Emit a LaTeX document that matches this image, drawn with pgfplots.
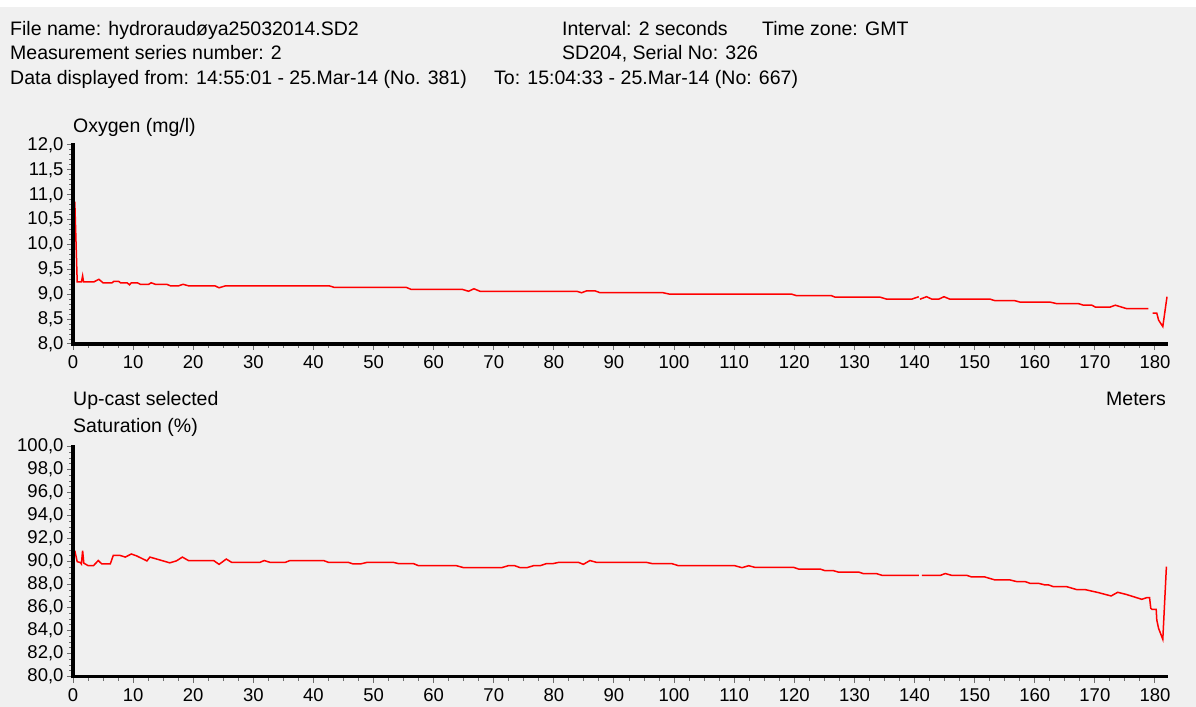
\documentclass[border=0pt]{standalone}
\usepackage{pgfplots}
\pgfplotsset{compat=1.18}
\usepackage{pgfplotstable}
\usepackage{fontspec}
\setmainfont{Liberation Sans}
\definecolor{bg}{RGB}{240,240,240}
\definecolor{tickgray}{RGB}{110,110,110}

\pgfplotstableread{
m v
0.3 10.86
0.7 9.25
1.4 9.25
1.6 9.37
1.75 9.25
3.5 9.25
4.3 9.30
5.0 9.23
6.5 9.23
6.8 9.26
7.6 9.26
7.9 9.23
9.0 9.23
9.4 9.19
9.7 9.23
10.7 9.23
11.2 9.20
12.6 9.20
13.0 9.23
13.7 9.20
15.6 9.20
16.2 9.17
17.6 9.17
18.3 9.20
19.2 9.17
23.6 9.17
24.3 9.13
25.4 9.17
42.6 9.17
43.4 9.14
55.4 9.14
56.2 9.10
64.7 9.10
65.8 9.06
66.7 9.11
67.7 9.06
83.8 9.06
84.6 9.03
85.5 9.07
86.8 9.07
87.7 9.03
98.2 9.03
99.3 9.00
119.6 9.00
120.4 8.97
126.2 8.97
126.8 8.94
134.3 8.94
135.4 8.90
139.5 8.90
140.7 8.95
140.8 nan
140.9 8.90
142.0 8.95
142.9 8.90
144.0 8.90
144.9 8.95
145.9 8.90
152.6 8.90
153.4 8.87
156.7 8.87
157.6 8.84
162.6 8.84
163.7 8.81
167.3 8.81
168.1 8.78
169.5 8.78
170.1 8.74
172.5 8.74
173.4 8.78
175.3 8.71
178.9 8.71
179.2 nan
179.6 8.62
180.3 8.62
180.6 8.48
181.3 8.35
182.0 8.95
}\oxygen

\pgfplotstableread{
m v
0.3 90.96
0.7 90.0
1.2 89.93
1.4 89.8
1.6 90.96
1.8 89.87
2.55 89.65
3.4 89.65
4.2 90.1
4.8 89.8
6.2 89.8
6.7 90.55
7.8 90.55
8.7 90.4
9.7 90.67
10.6 90.5
12.3 90.07
12.8 90.4
16.1 89.9
17.2 90.07
18.2 90.4
19.2 90.1
23.4 90.1
24.3 89.77
25.5 90.23
26.4 89.94
31.1 89.94
31.8 90.1
32.8 89.94
35.3 89.94
36.1 90.1
41.7 90.1
42.5 89.94
45.8 89.94
46.6 89.8
47.8 89.8
48.9 89.94
53.3 89.94
54.1 89.84
56.6 89.84
57.5 89.65
63.8 89.65
65.0 89.48
71.3 89.48
72.4 89.65
73.5 89.65
74.4 89.48
75.5 89.48
76.6 89.65
77.7 89.65
78.8 89.84
79.9 89.84
80.8 89.94
84.1 89.94
84.9 89.77
86.0 90.1
87.1 89.94
95.4 89.94
96.3 89.84
99.6 89.84
100.7 89.65
110.1 89.65
111.3 89.48
112.4 89.65
113.5 89.5
119.9 89.5
120.7 89.36
124.3 89.36
125.1 89.22
126.5 89.22
127.3 89.1
130.7 89.1
131.5 88.96
133.7 88.96
134.6 88.81
140.7 88.81
140.9 nan
141.2 88.81
144.3 88.81
145.1 88.97
146.2 88.81
148.7 88.81
149.5 88.67
151.7 88.67
153.4 88.41
155.9 88.41
157.0 88.27
158.4 88.27
159.2 88.12
160.6 88.12
161.7 87.98
162.3 87.98
163.1 87.83
165.3 87.83
167.0 87.57
168.4 87.57
170.6 87.31
172.7 87.02
173.8 87.34
175.3 87.14
177.8 86.73
178.6 86.87
179.1 86.87
179.3 85.95
179.5 85.86
180.2 85.86
180.3 84.93
180.6 84.2
181.3 83.25
181.9 89.57
}\saturation

\newcommand{\txt}{\fontsize{19.5bp}{22bp}\selectfont}
\newcommand{\tck}{\fontsize{18.5bp}{20bp}\selectfont}

\pgfplotsset{
  myaxis/.style={
    scale only axis,
    width=1094bp,
    xmin=0, xmax=182,
    axis lines=left,
    axis line style={-},
    xtick distance=10,
    minor x tick num=3,
    tick align=outside,
    major tick length=6bp,
    minor tick length=4bp,
    every tick/.style={tickgray, line width=1bp},
    unbounded coords=jump,
    /pgf/number format/assume math mode=true,
    ticklabel style={font=\tck},
    xticklabel style={/pgf/number format/fixed, yshift=-2bp},
    yticklabel style={/pgf/number format/.cd, fixed, fixed zerofill, precision=1, use comma},
    clip=false,
  },
  thickaxes/.style={
    after end axis/.append code={
      \draw[black, line width=3.5bp, line cap=butt] ([xshift=-1.75bp]rel axis cs:0,0) -- ([xshift=1bp]rel axis cs:1,0);
      \draw[black, line width=3.5bp, line cap=butt] ([yshift=-1.75bp]rel axis cs:0,0) -- ([yshift=2bp]rel axis cs:0,1);
    }
  }
}

\begin{document}
\begin{tikzpicture}[x=1bp,y=1bp]
\path[use as bounding box] (0,0) rectangle (1196,707);
\fill[bg] (0,0) rectangle (1196,707);
\fill[white] (0,700) rectangle (1196,707);

% header
\node[anchor=base west, inner sep=0pt, font=\txt] at (10,671) {File name: hydroraudøya25032014.SD2};
\node[anchor=base west, inner sep=0pt, font=\txt] at (10,647) {Measurement series number: 2};
\node[anchor=base west, inner sep=0pt, font=\txt] at (10,622) {Data displayed from: 14:55:01 - 25.Mar-14 (No. 381)};
\node[anchor=base west, inner sep=0pt, font=\txt] at (494,622) {To: 15:04:33 - 25.Mar-14 (No: 667)};
\node[anchor=base west, inner sep=0pt, font=\txt] at (562,671) {Interval: 2 seconds};
\node[anchor=base west, inner sep=0pt, font=\txt] at (762,671) {Time zone: GMT};
\node[anchor=base west, inner sep=0pt, font=\txt] at (562,647) {SD204, Serial No: 326};

% axis labels
\node[anchor=base west, inner sep=0pt, font=\txt] at (73,574) {Oxygen (mg/l)};
\node[anchor=base west, inner sep=0pt, font=\txt] at (73,301) {Up-cast selected};
\node[anchor=base east, inner sep=0pt, font=\txt] at (1166,301) {Meters};
\node[anchor=base west, inner sep=0pt, font=\txt] at (73,274) {Saturation (\%)};

\begin{axis}[myaxis, thickaxes,
  at={(73bp,363bp)}, anchor=south west,
  height=199bp,
  ymin=8, ymax=12,
  ytick distance=0.5,
  minor y tick num=4,
]
\addplot[red, line width=1.5bp, no markers] table[x=m, y=v] {\oxygen};
\end{axis}

\begin{axis}[myaxis, thickaxes,
  at={(73bp,30.3bp)}, anchor=south west,
  height=230bp,
  ymin=80, ymax=100,
  ytick distance=2,
  minor y tick num=3,
]
\addplot[red, line width=1.5bp, no markers] table[x=m, y=v] {\saturation};
\end{axis}
\end{tikzpicture}
\end{document}
